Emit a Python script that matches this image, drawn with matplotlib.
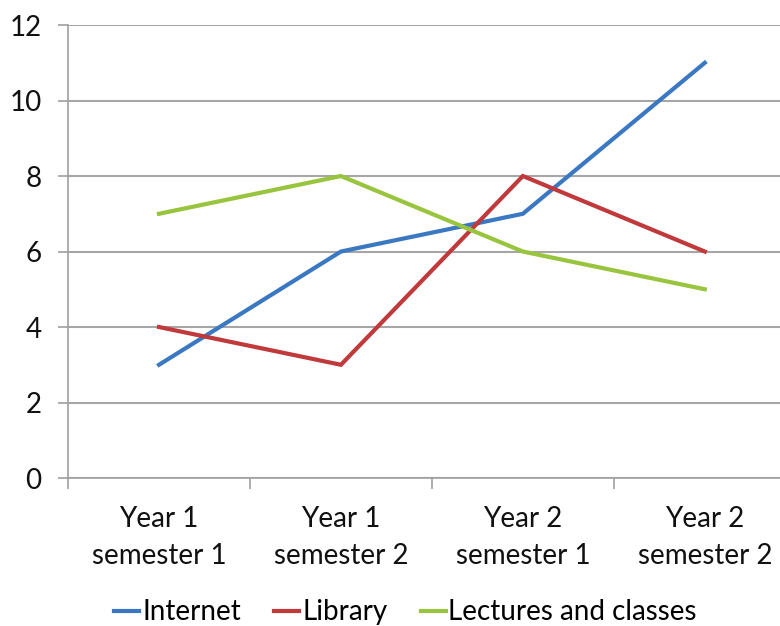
import matplotlib
matplotlib.use("Agg")
import matplotlib.pyplot as plt
from matplotlib.ticker import FixedLocator, NullFormatter

categories = ["Year 1\nsemester 1", "Year 1\nsemester 2", "Year 2\nsemester 1", "Year 2\nsemester 2"]
internet = [3, 6, 7, 11]
library = [4, 3, 8, 6]
lectures = [7, 8, 6, 5]

plt.rcParams['font.family'] = ['Lato', 'DejaVu Sans']

fig = plt.figure(figsize=(7.8, 6.26), dpi=100)
ax = fig.add_axes([0.0872, 0.2364, 0.933, 0.7236])

x = list(range(len(categories)))
ax.plot(x, internet, color='#3a78c2', lw=3, label='Internet', solid_joinstyle='miter')
ax.plot(x, library, color='#c0393b', lw=3, label='Library', solid_joinstyle='miter')
ax.plot(x, lectures, color='#98c43e', lw=3, label='Lectures and classes', solid_joinstyle='miter')

ax.set_xlim(-0.5, 3.5)
ax.set_ylim(0, 12)
ax.set_yticks(range(0, 13, 2))
ax.yaxis.grid(True, color='#a6a6a6', lw=1.5)
ax.set_axisbelow(True)

ax.xaxis.set_major_locator(FixedLocator([-0.5, 0.5, 1.5, 2.5, 3.5]))
ax.xaxis.set_major_formatter(NullFormatter())
ax.xaxis.set_minor_locator(FixedLocator(x))
ax.set_xticklabels(categories, minor=True)
ax.tick_params(axis='x', which='minor', length=0, pad=20, labelsize=20, labelcolor='#111111')
ax.tick_params(axis='x', which='major', length=8, color='#a0a0a0', width=1.2)
ax.tick_params(axis='y', length=7, color='#a0a0a0', width=1.2, labelsize=20, pad=12, labelcolor='#111111')
for lbl in ax.get_xticklabels(minor=True):
    lbl.set_linespacing(1.55)

for s in ['top', 'right']:
    ax.spines[s].set_visible(False)
ax.spines['left'].set_color('#a0a0a0')
ax.spines['bottom'].set_color('#a0a0a0')
ax.spines['left'].set_linewidth(1.2)
ax.spines['bottom'].set_linewidth(1.2)

fig.legend(loc='center', bbox_to_anchor=(0.52, 0.022), ncol=3, frameon=False,
           fontsize=20, handlelength=0.9, handletextpad=0.1, columnspacing=1.2)

fig.savefig("out.png", dpi=100)
